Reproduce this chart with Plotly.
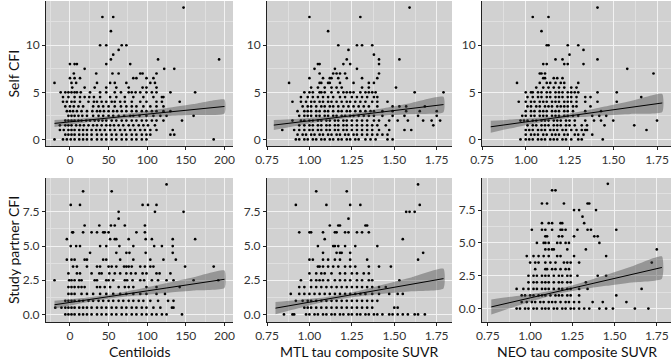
import plotly.graph_objects as go

# ---------------- data: rows of points (y value -> x values) ----------------
self_centiloid = {
    14: [147], 13: [42, 56], 11.5: [53], 10: [39, 47, 67, 73], 9.5: [63], 9: [56],
    8.5: [53, 114, 193], 8: [0, 6, 9, 47, 78], 7.5: [19, 122, 135],
    7: [5, 34, 55, 63, 91, 94, 112],
    6.5: [0, 6, 13, 82, 86, 99, 108],
    6: [-20, 2, 8, 35, 52, 58, 73, 104, 110],
    5.5: [3, 19, 32, 47, 60, 76, 94, 99, 112],
    5: [-12, -6, -2, 2, 6, 9, 14, 26, 39, 47, 58, 66, 76, 80, 85, 91, 99, 106, 112, 130, 162],
    4.5: [-9, -2, 6, 13, 19, 25, 31, 39, 52, 60, 71, 82, 95, 108, 119, 121],
    4: [-9, -4, 2, 6, 13, 24, 31, 35, 41, 47, 54, 58, 65, 71, 80, 91, 99, 112, 119, 142],
    3.5: [-6, 0, 5, 11, 17, 30, 37, 43, 50, 58, 66, 73, 80, 86, 95, 104, 112, 121],
    3: [-4, 0, 4, 9, 15, 22, 29, 35, 39, 44, 50, 56, 61, 67, 73, 80, 86, 93, 99, 106, 112, 121, 130],
    2.5: [-2, 2, 6, 11, 16, 22, 30, 37, 43, 50, 56, 63, 70, 78, 82, 90, 99, 108, 117, 125, 160],
    2: [-6, -2, 2, 6, 11, 15, 21, 26, 32, 37, 42, 47, 54, 60, 67, 73, 80, 86, 93, 99, 106, 112, 121, 145],
    1.5: [-13, -6, -2, 2, 8, 13, 18, 24, 30, 35, 41, 47, 52, 57, 63, 69, 76, 82, 89, 95, 101, 110],
    1: [-13, -8, -2, 2, 6, 12, 17, 22, 28, 34, 39, 45, 52, 58, 65, 71, 78, 84, 91, 97, 104, 112, 133],
    0.5: [-6, -2, 2, 6, 12, 17, 22, 28, 35, 41, 47, 54, 60, 67, 73, 80, 86, 93, 99, 104, 130, 135],
    0: [-20, -9, -4, 1, 6, 12, 17, 22, 28, 35, 41, 47, 54, 60, 67, 73, 80, 86, 93, 99, 186],
}

self_mtl = {
    14: [1.59], 13: [1.00, 1.30], 11.5: [1.11], 10: [1.17, 1.28, 1.31, 1.37], 9.5: [1.23], 9: [1.38],
    8.5: [1.22, 1.41, 1.53], 8: [1.05, 1.06, 1.20, 1.24, 1.41], 7.5: [1.03, 1.15, 1.28],
    7: [1.06, 1.14, 1.16, 1.18, 1.21, 1.41],
    6.5: [1.00, 1.08, 1.12, 1.13, 1.17, 1.22, 1.31, 1.40],
    6: [0.88, 1.06, 1.07, 1.11, 1.12, 1.18, 1.26, 1.35, 1.38],
    5.5: [1.01, 1.05, 1.09, 1.13, 1.16, 1.19, 1.31, 1.35, 1.51],
    5: [0.97, 1.00, 1.02, 1.06, 1.07, 1.09, 1.13, 1.17, 1.20, 1.22, 1.24, 1.26, 1.30, 1.33, 1.35, 1.37, 1.39, 1.62, 1.79],
    4.5: [0.95, 0.99, 1.02, 1.05, 1.08, 1.11, 1.14, 1.18, 1.21, 1.25, 1.28, 1.31, 1.34, 1.38, 1.40],
    4: [0.90, 0.95, 0.98, 1.01, 1.03, 1.06, 1.08, 1.11, 1.13, 1.16, 1.19, 1.22, 1.24, 1.27, 1.30, 1.33, 1.37, 1.40, 1.46],
    3.5: [0.96, 0.99, 1.01, 1.04, 1.07, 1.09, 1.12, 1.14, 1.17, 1.20, 1.23, 1.26, 1.29, 1.32, 1.35, 1.40, 1.49, 1.53, 1.57, 1.68],
    3: [0.93, 0.97, 0.99, 1.01, 1.04, 1.06, 1.09, 1.11, 1.14, 1.17, 1.19, 1.22, 1.24, 1.27, 1.30, 1.33, 1.36, 1.38, 1.43, 1.49, 1.57, 1.65, 1.75],
    2.5: [0.94, 0.97, 0.99, 1.01, 1.04, 1.06, 1.09, 1.11, 1.14, 1.16, 1.19, 1.21, 1.24, 1.26, 1.29, 1.32, 1.35, 1.38, 1.43, 1.49, 1.56, 1.64, 1.75],
    2: [0.90, 0.95, 0.97, 1.00, 1.02, 1.05, 1.07, 1.10, 1.12, 1.15, 1.17, 1.20, 1.22, 1.25, 1.28, 1.31, 1.34, 1.38, 1.41, 1.47, 1.52, 1.58, 1.67, 1.72, 1.77],
    1.5: [0.94, 0.97, 1.00, 1.02, 1.05, 1.07, 1.10, 1.12, 1.15, 1.17, 1.20, 1.22, 1.25, 1.28, 1.31, 1.34, 1.37, 1.40, 1.45, 1.73],
    1: [0.84, 0.91, 0.94, 0.97, 1.00, 1.02, 1.05, 1.07, 1.10, 1.12, 1.15, 1.17, 1.20, 1.22, 1.25, 1.28, 1.31, 1.34, 1.37, 1.41, 1.47, 1.56, 1.60],
    0.5: [0.93, 0.96, 0.98, 1.01, 1.03, 1.06, 1.08, 1.11, 1.13, 1.16, 1.18, 1.21, 1.23, 1.26, 1.28, 1.31, 1.34, 1.37, 1.40, 1.43, 1.46],
    0: [0.92, 0.94, 0.97, 0.99, 1.02, 1.04, 1.07, 1.09, 1.12, 1.14, 1.17, 1.19, 1.22, 1.24, 1.27, 1.29, 1.33, 1.36, 1.39, 1.46, 1.49],
}

self_neo = {
    14: [1.41], 13: [1.04, 1.13], 11.5: [1.09], 10: [1.12, 1.13, 1.24, 1.30], 9.5: [1.33], 9: [1.25],
    8.5: [1.17, 1.21, 1.41], 8: [1.10, 1.12, 1.22, 1.24, 1.33], 7.5: [1.58],
    7: [1.08, 1.09, 1.11, 1.73],
    6.5: [1.10, 1.11, 1.16, 1.18, 1.21],
    6: [0.95, 1.08, 1.12, 1.14, 1.17, 1.20, 1.22, 1.30],
    5.5: [1.06, 1.10, 1.13, 1.16, 1.19, 1.22, 1.26, 1.29],
    5: [1.00, 1.03, 1.04, 1.07, 1.09, 1.12, 1.14, 1.17, 1.19, 1.21, 1.24, 1.26, 1.28, 1.30, 1.41, 1.52],
    4.5: [1.01, 1.04, 1.07, 1.09, 1.12, 1.14, 1.17, 1.19, 1.21, 1.24, 1.26, 1.29, 1.34, 1.37, 1.66],
    4: [0.96, 1.00, 1.03, 1.05, 1.08, 1.10, 1.12, 1.15, 1.17, 1.19, 1.22, 1.24, 1.26, 1.29, 1.34, 1.41, 1.52],
    3.5: [1.01, 1.03, 1.06, 1.08, 1.11, 1.13, 1.15, 1.18, 1.20, 1.22, 1.24, 1.27, 1.29, 1.37],
    3: [1.00, 1.03, 1.05, 1.08, 1.10, 1.12, 1.15, 1.17, 1.19, 1.22, 1.24, 1.27, 1.34, 1.43],
    2.5: [0.98, 1.00, 1.03, 1.05, 1.08, 1.10, 1.12, 1.15, 1.17, 1.19, 1.22, 1.24, 1.27, 1.30, 1.38, 1.42, 1.46],
    2: [0.97, 0.99, 1.01, 1.04, 1.06, 1.09, 1.11, 1.13, 1.16, 1.18, 1.20, 1.23, 1.25, 1.28, 1.34, 1.39, 1.43, 1.50, 1.75],
    1.5: [1.01, 1.04, 1.06, 1.09, 1.11, 1.13, 1.16, 1.18, 1.20, 1.23, 1.25, 1.28, 1.32, 1.35, 1.45, 1.62],
    1: [1.00, 1.02, 1.04, 1.07, 1.09, 1.11, 1.14, 1.16, 1.18, 1.21, 1.23, 1.26, 1.29, 1.32, 1.34, 1.35, 1.69],
    0.5: [1.00, 1.03, 1.05, 1.07, 1.10, 1.12, 1.15, 1.17, 1.19, 1.22, 1.24, 1.28, 1.30, 1.33, 1.38],
    0: [0.97, 1.00, 1.02, 1.04, 1.07, 1.09, 1.11, 1.14, 1.16, 1.18, 1.21, 1.23, 1.26, 1.30, 1.32, 1.44],
}

partner_centiloid = {
    9.5: [125], 9: [17, 54], 8: [1, 13, 94, 101, 112], 7.5: [63, 110, 147], 7: [63],
    6.5: [19, 38, 53, 58, 71, 97],
    6: [3, 4, 17, 28, 35, 43, 45, 50, 86, 97],
    5.5: [-4, 52, 58, 60, 76, 98, 106, 133, 162],
    5: [1, 8, 13, 39, 47, 64, 82, 109, 119, 133],
    4.5: [26, 60, 73, 77, 98, 133],
    4: [-4, 2, 6, 19, 22, 43, 47, 65, 82, 104, 121, 137],
    3.5: [4, 9, 22, 35, 39, 50, 54, 60, 70, 73, 76, 80, 91, 97, 104, 108, 149, 186],
    3: [-2, 9, 13, 28, 38, 41, 51, 58, 65, 73, 79, 85, 94, 99, 112, 116, 130],
    2.5: [-20, -1, 2, 6, 12, 15, 32, 35, 47, 50, 56, 71, 74, 81, 91, 96, 106, 114, 125, 134, 160, 192],
    2: [-2, 2, 6, 11, 15, 19, 35, 39, 45, 52, 63, 71, 76, 82, 99, 112, 142],
    1.5: [-2, 2, 6, 15, 22, 30, 39, 47, 56, 65, 73, 82, 91, 99, 112, 123],
    1: [-6, -2, 2, 6, 12, 17, 24, 30, 37, 43, 50, 56, 63, 69, 76, 82, 89, 95, 104, 114, 127, 134],
    0.5: [-19, -11, -6, -2, 2, 6, 12, 17, 22, 28, 35, 41, 47, 54, 60, 67, 73, 80, 86, 93, 99, 108, 117, 132, 134],
    0: [-6, -2, 2, 6, 12, 17, 22, 28, 35, 41, 47, 54, 60, 67, 73, 80, 86, 93, 99, 106, 112, 119, 125, 145],
}

partner_mtl = {
    9.5: [1.64], 9: [1.04, 1.22], 8: [0.92, 1.10, 1.24, 1.30, 1.65], 7.5: [1.57, 1.59, 1.62], 7: [1.23],
    6.5: [1.12, 1.17, 1.18, 1.33, 1.34],
    6: [0.94, 1.00, 1.01, 1.08, 1.15, 1.16, 1.21, 1.23, 1.28, 1.31, 1.35],
    5.5: [1.09, 1.55],
    5: [1.05, 1.14, 1.15, 1.17, 1.21, 1.27, 1.40],
    4.5: [1.08, 1.16, 1.18, 1.19, 1.24, 1.67],
    4: [1.00, 1.02, 1.08, 1.11, 1.15, 1.18, 1.24, 1.34, 1.64],
    3.5: [1.05, 1.06, 1.08, 1.11, 1.14, 1.17, 1.21, 1.24, 1.27, 1.35, 1.41, 1.48],
    3: [1.00, 1.04, 1.07, 1.09, 1.13, 1.18, 1.21, 1.25, 1.28, 1.32, 1.35],
    2.5: [0.95, 1.01, 1.04, 1.06, 1.08, 1.11, 1.15, 1.18, 1.21, 1.24, 1.28, 1.31, 1.35, 1.37, 1.53],
    2: [0.94, 0.97, 1.01, 1.04, 1.07, 1.10, 1.13, 1.16, 1.19, 1.22, 1.25, 1.28, 1.31, 1.34, 1.37, 1.41, 1.45],
    1.5: [0.89, 0.94, 0.97, 1.00, 1.03, 1.06, 1.09, 1.12, 1.15, 1.18, 1.21, 1.24, 1.27, 1.30, 1.33, 1.37, 1.41, 1.47, 1.52, 1.55],
    1: [0.92, 0.96, 0.99, 1.01, 1.04, 1.07, 1.10, 1.13, 1.16, 1.19, 1.22, 1.25, 1.28, 1.31, 1.34, 1.37, 1.40],
    0.5: [0.97, 0.99, 1.01, 1.04, 1.07, 1.10, 1.13, 1.16, 1.19, 1.22, 1.25, 1.28, 1.31, 1.34, 1.37, 1.50, 1.52],
    0: [0.85, 0.90, 0.91, 0.98, 1.00, 1.03, 1.05, 1.08, 1.10, 1.13, 1.15, 1.18, 1.20, 1.23, 1.25, 1.28, 1.30, 1.33, 1.35, 1.38, 1.40, 1.43, 1.47, 1.49, 1.52, 1.55, 1.58, 1.62, 1.64, 1.68],
}

partner_neo = {
    9.5: [1.46], 9: [1.13, 1.15], 8: [1.07, 1.10, 1.20, 1.34, 1.35], 7.5: [1.26, 1.29, 1.39], 7: [1.31],
    6.5: [1.07, 1.11, 1.13, 1.18, 1.19, 1.32],
    6: [1.01, 1.07, 1.09, 1.13, 1.18, 1.19, 1.21, 1.28, 1.34, 1.36, 1.51],
    5.5: [1.09, 1.10, 1.17, 1.19, 1.26, 1.38, 1.40],
    5: [1.04, 1.08, 1.09, 1.11, 1.16, 1.18, 1.21, 1.23, 1.41],
    4.5: [1.09, 1.11, 1.13, 1.14, 1.22, 1.33, 1.75],
    4: [0.98, 1.02, 1.05, 1.08, 1.11, 1.16, 1.18, 1.26, 1.45],
    3.5: [1.00, 1.03, 1.05, 1.09, 1.12, 1.15, 1.20, 1.22, 1.24, 1.29, 1.72],
    3: [1.03, 1.09, 1.10, 1.13, 1.15, 1.18, 1.21, 1.23],
    2.5: [0.99, 1.02, 1.04, 1.07, 1.09, 1.11, 1.14, 1.17, 1.19, 1.22, 1.24, 1.28, 1.40, 1.45],
    2: [0.99, 1.02, 1.04, 1.07, 1.09, 1.11, 1.14, 1.17, 1.19, 1.22, 1.24, 1.33],
    1.5: [0.92, 0.96, 0.99, 1.02, 1.04, 1.07, 1.09, 1.11, 1.14, 1.17, 1.19, 1.22, 1.24, 1.29, 1.34, 1.66],
    1: [0.95, 0.97, 1.00, 1.02, 1.05, 1.07, 1.09, 1.12, 1.15, 1.17, 1.19, 1.22, 1.24, 1.29, 1.51],
    0.5: [0.95, 0.98, 1.01, 1.03, 1.06, 1.08, 1.11, 1.13, 1.15, 1.18, 1.21, 1.23, 1.26, 1.29, 1.37, 1.43, 1.57],
    0: [0.92, 0.94, 0.97, 0.99, 1.02, 1.04, 1.07, 1.09, 1.11, 1.14, 1.16, 1.19, 1.21, 1.24, 1.26, 1.29, 1.32, 1.35, 1.41, 1.45, 1.49, 1.62, 1.70],
}

# ---------------- fitted lines and confidence bands ----------------
fit_self_cl_x = [-20, 0, 20, 45, 70, 100, 130, 160, 200]
fit_self_cl_lo = [1.33, 1.57, 1.80, 2.03, 2.21, 2.35, 2.48, 2.58, 2.76]
fit_self_cl_hi = [2.07, 2.15, 2.26, 2.43, 2.67, 3.01, 3.38, 3.76, 4.24]
fit_self_cl_line = [1.70, 3.50]

fit_self_mtl_x = [0.79, 0.9, 1.0, 1.1, 1.17, 1.3, 1.45, 1.6, 1.79]
fit_self_mtl_lo = [0.99, 1.36, 1.68, 1.98, 2.15, 2.37, 2.55, 2.70, 2.88]
fit_self_mtl_hi = [2.05, 2.16, 2.28, 2.42, 2.55, 2.89, 3.37, 3.88, 4.52]
fit_self_mtl_line = [1.52, 3.70]

fit_self_neo_x = [0.80, 0.9, 1.0, 1.1, 1.18, 1.3, 1.45, 1.6, 1.78]
fit_self_neo_lo = [0.71, 1.12, 1.51, 1.87, 2.12, 2.36, 2.55, 2.71, 2.91]
fit_self_neo_hi = [1.97, 2.08, 2.21, 2.35, 2.52, 2.90, 3.49, 4.09, 4.83]
fit_self_neo_line = [1.34, 3.87]

fit_sp_cl_x = [-20, 0, 20, 45, 70, 100, 130, 160, 200]
fit_sp_cl_lo = [0.41, 0.65, 0.87, 1.11, 1.29, 1.45, 1.61, 1.75, 1.93]
fit_sp_cl_hi = [1.01, 1.12, 1.23, 1.41, 1.65, 1.99, 2.35, 2.72, 3.21]
fit_sp_cl_line = [0.71, 2.57]

fit_sp_mtl_x = [0.80, 0.9, 1.0, 1.1, 1.17, 1.3, 1.45, 1.6, 1.79]
fit_sp_mtl_lo = [0.01, 0.34, 0.66, 0.94, 1.12, 1.34, 1.53, 1.69, 1.90]
fit_sp_mtl_hi = [0.91, 1.02, 1.15, 1.28, 1.42, 1.76, 2.23, 2.71, 3.34]
fit_sp_mtl_line = [0.46, 2.62]

fit_sp_neo_x = [0.77, 0.9, 1.0, 1.1, 1.17, 1.3, 1.45, 1.6, 1.78]
fit_sp_neo_lo = [-0.44, 0.11, 0.52, 0.91, 1.14, 1.45, 1.73, 1.99, 2.28]
fit_sp_neo_hi = [0.70, 0.93, 1.10, 1.31, 1.50, 1.95, 2.57, 3.21, 3.98]
fit_sp_neo_line = [0.13, 3.13]

x_titles = ["Centiloids", "MTL tau composite SUVR", "NEO tau composite SUVR"]
y_titles = ["Self CFI", "Study partner CFI"]

# ---------------- figure ----------------
W, H = 672, 360
FONT = "Lato, 'Open Sans', sans-serif"
BG = "#d1d1d1"

panels = [
    (self_centiloid, fit_self_cl_x, fit_self_cl_line, fit_self_cl_lo, fit_self_cl_hi),
    (self_mtl, fit_self_mtl_x, fit_self_mtl_line, fit_self_mtl_lo, fit_self_mtl_hi),
    (self_neo, fit_self_neo_x, fit_self_neo_line, fit_self_neo_lo, fit_self_neo_hi),
    (partner_centiloid, fit_sp_cl_x, fit_sp_cl_line, fit_sp_cl_lo, fit_sp_cl_hi),
    (partner_mtl, fit_sp_mtl_x, fit_sp_mtl_line, fit_sp_mtl_lo, fit_sp_mtl_hi),
    (partner_neo, fit_sp_neo_x, fit_sp_neo_line, fit_sp_neo_lo, fit_sp_neo_hi),
]

px_x = [(46, 233), (267, 452), (482, 671)]
px_y = [(1, 146), (178, 322)]

x_ranges = [[-31, 211], [0.75, 1.84], [0.75, 1.83], [-31, 211], [0.75, 1.84], [0.715, 1.834]]
y_ranges = [[-0.7, 14.7]] * 3 + [[-0.55, 9.97], [-0.55, 9.97], [-1.02, 9.94]]

fig = go.Figure()

for i, (rows, fx, fline, flo, fhi) in enumerate(panels):
    k = i + 1
    xa = "x" if k == 1 else f"x{k}"
    ya = "y" if k == 1 else f"y{k}"
    xs, ys = [], []
    for yv, xl in rows.items():
        for xv in xl:
            xs.append(xv)
            ys.append(yv)
    fig.add_trace(go.Scatter(x=xs, y=ys, mode="markers", xaxis=xa, yaxis=ya,
                             marker=dict(size=2.7, color="black"), showlegend=False,
                             hoverinfo="skip"))
    fig.add_trace(go.Scatter(x=fx + fx[::-1], y=fhi + flo[::-1], mode="lines",
                             xaxis=xa, yaxis=ya, fill="toself",
                             fillcolor="rgba(70,70,70,0.42)",
                             line=dict(width=0, shape="spline", smoothing=0.5),
                             showlegend=False, hoverinfo="skip"))
    fig.add_trace(go.Scatter(x=[fx[0], fx[-1]], y=fline, mode="lines",
                             xaxis=xa, yaxis=ya, line=dict(color="black", width=1),
                             showlegend=False, hoverinfo="skip"))

    col, row = i % 3, i // 3
    x0, x1 = px_x[col]
    y0, y1 = px_y[row]
    is_cl = col == 0
    xdt = 50 if is_cl else 0.25
    xt0 = 0 if is_cl else 0.75
    ydt = 5 if row == 0 else 2.5
    axcommon = dict(showline=True, linecolor="#222", linewidth=1, ticks="outside",
                    ticklen=3, tickcolor="#222", tickwidth=1, zeroline=False,
                    showgrid=True, gridcolor="#f2f2f2", gridwidth=1,
                    tickfont=dict(family=FONT, size=12, color="#333"), automargin=False)
    layout_x = dict(axcommon, domain=[x0 / W, x1 / W], range=x_ranges[i], anchor=ya,
                    tick0=xt0, dtick=xdt,
                    minor=dict(tick0=xt0, dtick=xdt / 2, showgrid=True, gridcolor="#e0e0e0", gridwidth=0.6),
                    tickformat=".2f" if not is_cl else None)
    layout_y = dict(axcommon, domain=[1 - y1 / H, 1 - y0 / H], range=y_ranges[i], anchor=xa,
                    tick0=0, dtick=ydt,
                    minor=dict(tick0=0, dtick=ydt / 2, showgrid=True, gridcolor="#e0e0e0", gridwidth=0.6),
                    tickformat=".1f" if row == 1 else None)
    fig.update_layout(**{("xaxis" if k == 1 else f"xaxis{k}"): layout_x,
                         ("yaxis" if k == 1 else f"yaxis{k}"): layout_y})

annotations = []
for col, t in enumerate(x_titles):
    x0, x1 = px_x[col]
    annotations.append(dict(text=t, x=(x0 + x1) / 2 / W, y=1 - 351 / H, xref="paper", yref="paper",
                            showarrow=False, xanchor="center", yanchor="middle",
                            font=dict(family=FONT, size=14, color="#111")))
for row, t in enumerate(y_titles):
    y0, y1 = px_y[row]
    annotations.append(dict(text=t, x=13 / W, y=1 - (y0 + y1) / 2 / H, xref="paper", yref="paper",
                            showarrow=False, textangle=-90, xanchor="center", yanchor="middle",
                            font=dict(family=FONT, size=14, color="#111")))

fig.update_layout(width=W, height=H, margin=dict(l=0, r=0, t=0, b=0),
                  paper_bgcolor="white", plot_bgcolor=BG, annotations=annotations,
                  showlegend=False)

fig.write_html("out.html", config={"displayModeBar": False},
               post_script="document.body.style.margin='0';document.body.style.padding='0';"
                           "document.documentElement.style.overflow='hidden';")
